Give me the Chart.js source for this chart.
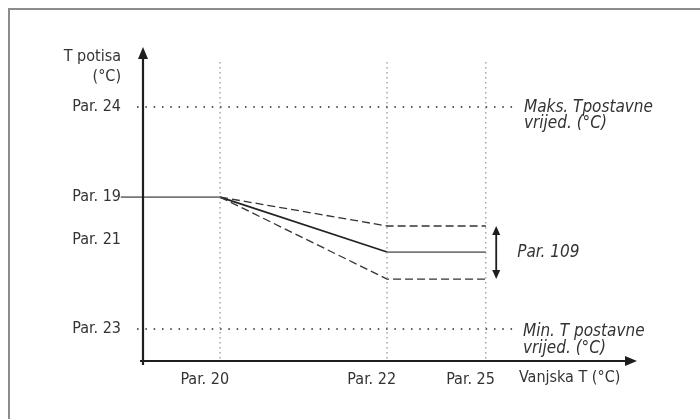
<!DOCTYPE html>
<html>
<head>
<meta charset="utf-8">
<script src="https://cdn.jsdelivr.net/npm/chart.js@4/dist/chart.umd.min.js"></script>
<style>
  html, body { margin: 0; padding: 0; background: #fff; }
  #wrap { width: 700px; height: 419px; }
</style>
</head>
<body>
<div id="wrap"><canvas id="c" width="700" height="419"></canvas></div>
<script>
// Schematic heating curve: flow temperature vs. outside temperature.
// Positions are on a 0..100 schematic scale for both axes.
const xTickValues = [15.6, 49.4, 69.4];
const xTickLabels = ['Par. 20', 'Par. 22', 'Par. 25'];
const yTickValues = [10.2, 38.5, 52.2, 80.9];
const yTickLabels = ['Par. 23', 'Par. 21', 'Par. 19', 'Par. 24'];

// Nominal curve and its band (upper / lower limits)
const curveX = [-4.5, 15.6, 49.4, 69.4];
const curveY = [52.2, 52.2, 34.7, 34.7];
const upperX = [15.6, 49.4, 69.4];
const upperY = [52.2, 43.0, 43.0];
const lowerX = [15.6, 49.4, 69.4];
const lowerY = [52.2, 26.1, 26.1];

// Max / min set-point reference lines
const refLineX = [-1.2, 75.7];
const maxSetY = [80.9, 80.9];
const minSetY = [10.2, 10.2];
const guideTopY = 95.2;

// Band width marker
const bandMarkerX = 71.5;

const FONT = '"DejaVu Sans Condensed", "Liberation Sans Narrow", "Roboto", sans-serif';
const TEXT = '#333';

const pts = (xs, ys) => xs.map((x, i) => ({ x: x, y: ys[i] }));

const datasets = [];
// vertical guide lines at the x ticks
xTickValues.forEach(v => datasets.push({
  data: pts([v, v], [guideTopY, 0]),
  borderColor: '#777', borderWidth: 1, borderDash: [1.5, 3.5]
}));
datasets.push({ data: pts(refLineX, maxSetY), borderColor: '#222', borderWidth: 1.4, borderDash: [1.5, 6.8] });
datasets.push({ data: pts(refLineX, minSetY), borderColor: '#222', borderWidth: 1.4, borderDash: [1.5, 6.8] });
datasets.push({ data: pts(upperX, upperY), borderColor: '#333', borderWidth: 1.3, borderDash: [8, 4] });
datasets.push({ data: pts(lowerX, lowerY), borderColor: '#333', borderWidth: 1.3, borderDash: [8, 4] });
datasets.push({
  data: pts(curveX, curveY), borderColor: '#777', borderWidth: 1.7,
  segment: { borderColor: ctx => ctx.p0.parsed.y !== ctx.p1.parsed.y ? '#222' : '#777' }
});
datasets.forEach(d => { d.showLine = true; d.pointRadius = 0; d.clip = false; d.fill = false; });

function arrowHead(ctx, x, y, dir, len, half) {
  ctx.beginPath();
  if (dir === 'up') { ctx.moveTo(x, y); ctx.lineTo(x - half, y + len); ctx.lineTo(x + half, y + len); }
  if (dir === 'down') { ctx.moveTo(x, y); ctx.lineTo(x - half, y - len); ctx.lineTo(x + half, y - len); }
  if (dir === 'right') { ctx.moveTo(x, y); ctx.lineTo(x - len, y - half); ctx.lineTo(x - len, y + half); }
  ctx.closePath();
  ctx.fill();
}

const framePlugin = {
  id: 'frame',
  beforeDraw(chart) {
    const ctx = chart.ctx;
    ctx.save();
    ctx.fillStyle = '#fff';
    ctx.fillRect(0, 0, chart.width, chart.height);
    ctx.strokeStyle = '#8c8c8c';
    ctx.lineWidth = 2;
    ctx.strokeRect(9, 9, chart.width + 20, chart.height + 20);
    ctx.restore();
  }
};

const decorPlugin = {
  id: 'decor',
  afterDatasetsDraw(chart) {
    const ctx = chart.ctx;
    const xs = chart.scales.x, ys = chart.scales.y;
    const x0 = xs.getPixelForValue(0), y0 = ys.getPixelForValue(0);
    const xEnd = xs.getPixelForValue(100), yEnd = ys.getPixelForValue(100);
    ctx.save();
    // axes with arrows
    ctx.strokeStyle = '#1e1e1e';
    ctx.fillStyle = '#1e1e1e';
    ctx.lineWidth = 2.2;
    ctx.beginPath();
    ctx.moveTo(x0, y0 + 4); ctx.lineTo(x0, yEnd + 8);
    ctx.moveTo(x0 - 3, y0); ctx.lineTo(xEnd - 8, y0);
    ctx.stroke();
    arrowHead(ctx, x0, yEnd, 'up', 12, 5);
    arrowHead(ctx, xEnd, y0, 'right', 12, 5);

    // band width marker
    const bx = xs.getPixelForValue(bandMarkerX);
    const bTop = ys.getPixelForValue(upperY[upperY.length - 1]);
    const bBot = ys.getPixelForValue(lowerY[lowerY.length - 1]);
    ctx.lineWidth = 1.8;
    ctx.beginPath();
    ctx.moveTo(bx, bTop + 6); ctx.lineTo(bx, bBot - 6);
    ctx.stroke();
    arrowHead(ctx, bx, bTop, 'up', 9, 4);
    arrowHead(ctx, bx, bBot, 'down', 9, 4);

    // axis titles
    ctx.fillStyle = TEXT;
    ctx.font = '16px ' + FONT;
    ctx.textAlign = 'right';
    ctx.textBaseline = 'middle';
    ctx.fillText('T potisa', x0 - 22, 57);
    ctx.fillText('(°C)', x0 - 22, 77);
    ctx.textAlign = 'left';
    ctx.fillText('Vanjska T (°C)', 519, y0 + 17);

    // annotations
    ctx.font = 'italic 17px ' + FONT;
    ctx.textBaseline = 'alphabetic';
    const ax = xs.getPixelForValue(refLineX[1]) + 7;
    const yMax = ys.getPixelForValue(maxSetY[0]);
    const yMin = ys.getPixelForValue(minSetY[0]);
    ctx.fillText('Maks. Tpostavne', ax, yMax + 5);
    ctx.fillText('vrijed. (°C)', ax, yMax + 21);
    ctx.fillText('Min. T postavne', ax - 1, yMin + 7);
    ctx.fillText('vrijed. (°C)', ax - 1, yMin + 24);
    ctx.textBaseline = 'middle';
    ctx.fillText('Par. 109', bx + 21, (bTop + bBot) / 2);
    ctx.restore();
  }
};

new Chart(document.getElementById('c'), {
  type: 'scatter',
  data: { datasets: datasets },
  plugins: [framePlugin, decorPlugin],
  options: {
    responsive: false,
    animation: false,
    devicePixelRatio: 1,
    layout: { padding: { left: 0, top: 47, right: 63, bottom: 0 } },
    plugins: { legend: { display: false }, tooltip: { enabled: false } },
    scales: {
      x: {
        type: 'linear', min: 0, max: 100,
        grid: { display: false, drawTicks: false },
        border: { display: false },
        afterFit: s => { s.height = 58; },
        afterBuildTicks: s => { s.ticks = xTickValues.map(v => ({ value: v })); },
        ticks: {
          callback: (v, i) => xTickLabels[i],
          align: 'end', labelOffset: 9, padding: 9, maxRotation: 0, autoSkip: false,
          color: TEXT, font: { family: FONT, size: 16 }
        }
      },
      y: {
        type: 'linear', min: 0, max: 100,
        grid: { display: false, drawTicks: false },
        border: { display: false },
        afterFit: s => { s.width = 143; },
        afterBuildTicks: s => { s.ticks = yTickValues.map(v => ({ value: v })); },
        ticks: {
          callback: (v, i) => yTickLabels[i],
          padding: 22, autoSkip: false,
          color: TEXT, font: { family: FONT, size: 16 }
        }
      }
    }
  }
});
</script>
</body>
</html>
